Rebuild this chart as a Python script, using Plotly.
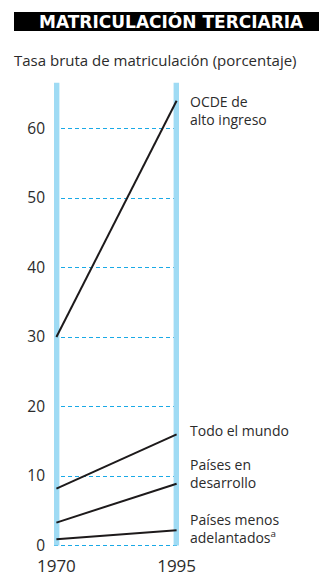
import plotly.graph_objects as go

# ---- data ----
years = [1970, 1995]
ocde = [30, 64]
mundo = [8.2, 16.0]
desarrollo = [3.3, 8.9]
menos = [0.9, 2.2]
series_labels = ["OCDE de<br>alto ingreso", "Todo el mundo", "Países en<br>desarrollo",
                 "Países menos<br>adelantados<sup>a</sup>"]
label_y = [62.6, 16.6, 10.3, 2.5]
y_ticks = [0, 10, 20, 30, 40, 50, 60]
title_text = "MATRICULACIÓN TERCIARIA"
subtitle_text = "Tasa bruta de matriculación (porcentaje)"
bar_top = 66.6

FONT = "Open Sans, Noto Sans, sans-serif"
TITLE_FONT = "DejaVu Sans, Open Sans, sans-serif"
TXT = "#2b2b2b"
W, H = 334, 577
ML, MR, MT, MB = 54, 155, 82, 28
PW, PH = W - ML - MR, H - MT - MB


def px_x(px):
    return (px - ML) / PW


def px_y(py):
    return (H - MB - py) / PH


fig = go.Figure()

bar_color = "#9fdbf4"
for yr in years:
    fig.add_trace(go.Scatter(x=[yr, yr], y=[0, bar_top], mode="lines",
                             line=dict(color=bar_color, width=6), hoverinfo="skip",
                             showlegend=False))

for s in [ocde, mundo, desarrollo, menos]:
    fig.add_trace(go.Scatter(x=years, y=s, mode="lines",
                             line=dict(color="#1d1a1b", width=2), showlegend=False))

for txt, yv in zip(series_labels, label_y):
    fig.add_annotation(x=years[1], y=yv, xref="x", yref="y", text=txt, showarrow=False,
                       xanchor="left", yanchor="middle", align="left", xshift=11,
                       font=dict(family=FONT, size=14, color=TXT))

# title bar
fig.add_shape(type="rect", xref="paper", yref="paper",
              x0=px_x(14), x1=px_x(319), y0=px_y(31), y1=px_y(12),
              fillcolor="#000000", line=dict(width=0), layer="above")
fig.add_annotation(x=px_x(171), y=px_y(21.5), xref="paper", yref="paper",
                   text="<b>" + title_text + "</b>", showarrow=False,
                   xanchor="center", yanchor="middle",
                   font=dict(family=TITLE_FONT, size=17, color="#ffffff"))
fig.add_annotation(x=px_x(12), y=px_y(60), xref="paper", yref="paper",
                   text=subtitle_text, showarrow=False, xanchor="left", yanchor="middle",
                   font=dict(family=FONT, size=15, color=TXT))

fig.update_xaxes(range=[1969.5, 1995.5], tickvals=years, ticktext=[str(y) for y in years],
                 showgrid=False, zeroline=False, showline=False, ticks="",
                 ticklabelstandoff=5, automargin=False,
                 tickfont=dict(family=FONT, size=17, color=TXT))
fig.update_yaxes(range=[-0.5, 66.7], tickvals=y_ticks, showgrid=True,
                 gridcolor="#1aa9e6", griddash="4px,3px", gridwidth=1,
                 zeroline=False, showline=False, ticks="", ticklabelstandoff=8,
                 automargin=False,
                 tickfont=dict(family=FONT, size=15.5, color=TXT))

fig.update_layout(width=W, height=H, margin=dict(l=ML, r=MR, t=MT, b=MB, autoexpand=False),
                  paper_bgcolor="white", plot_bgcolor="white", showlegend=False)

fig.write_html("out.html", config={"displayModeBar": False},
               post_script="document.body.style.margin='0';")
